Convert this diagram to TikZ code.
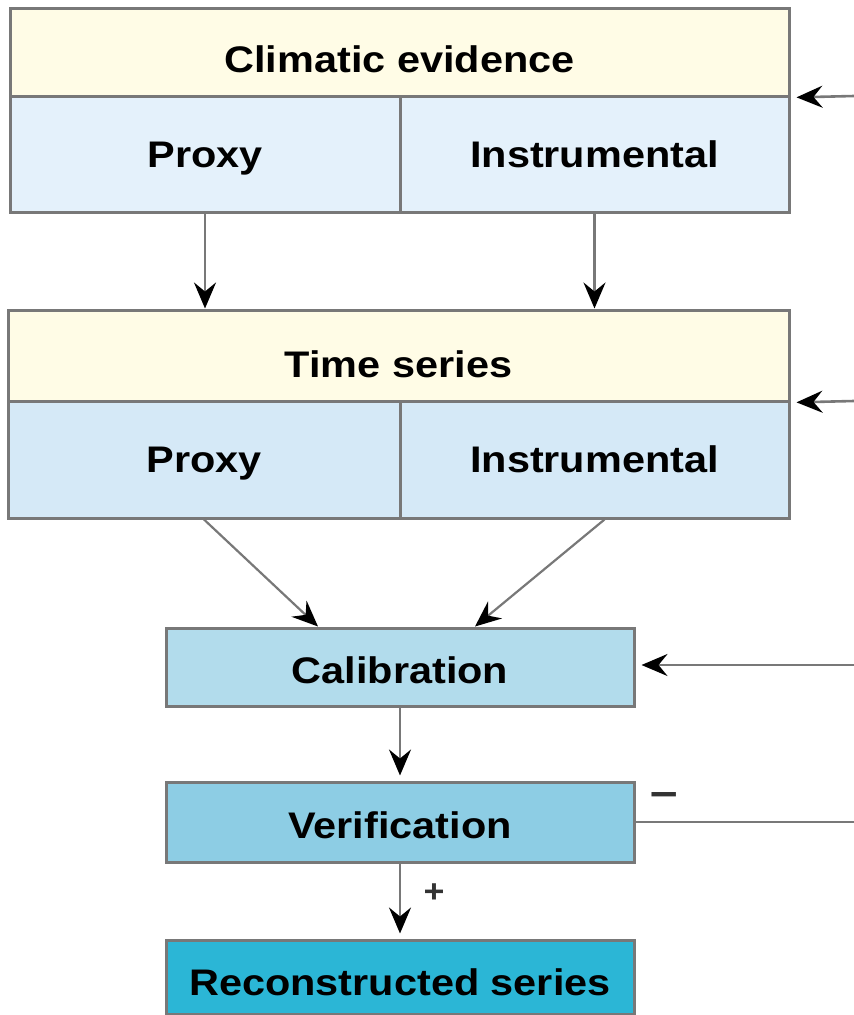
\documentclass[tikz,border=0pt]{standalone}
\usepackage{fontspec}
\setmainfont[FakeStretch=1.12]{Liberation Sans}
\usetikzlibrary{arrows.meta,calc}
\definecolor{linegray}{HTML}{787878}
\definecolor{hdryellow}{HTML}{FFFCE6}
\definecolor{cellblueA}{HTML}{E4F1FB}
\definecolor{cellblueB}{HTML}{D5E9F7}
\definecolor{calblue}{HTML}{B2DCEC}
\definecolor{verblue}{HTML}{8DCDE4}
\definecolor{recblue}{HTML}{2BB6D6}
\begin{document}
\begin{tikzpicture}[x=1pt,y=-1pt,
  cell/.style={draw=linegray, line width=3pt, inner sep=0pt,
    font=\fontsize{37}{40}\selectfont\bfseries, text height=26pt, text depth=0pt},
  arr/.style={draw=linegray, line width=2.6pt,
    -{Stealth[length=26pt,width=22pt,inset=9pt,color=black]}},
  thinarr/.style={arr, line width=2.2pt},
  sign/.style={inner sep=0pt, font=\fontsize{28}{30}\selectfont\bfseries, text=black!80}
]
\useasboundingbox (0,0) rectangle (854,1015);

% Climatic evidence box
\node[cell, fill=hdryellow, minimum width=779pt, minimum height=88pt, text height=40pt] (ce) at (399.5,52) {Climatic evidence};
\node[cell, fill=cellblueA, minimum width=390pt, minimum height=116pt] (cep) at (205,154) {Proxy};
\node[cell, fill=cellblueA, minimum width=389pt, minimum height=116pt] (cei) at (594.5,154) {Instrumental};

% Time series box
\node[cell, fill=hdryellow, minimum width=781pt, minimum height=91pt, text height=44pt] (ts) at (398.5,355.5) {Time series};
\node[cell, fill=cellblueB, minimum width=392pt, minimum height=117pt] (tsp) at (204,459.5) {Proxy};
\node[cell, fill=cellblueB, minimum width=389pt, minimum height=117pt] (tsi) at (594.5,459.5) {Instrumental};

% Process boxes
\node[cell, fill=calblue, minimum width=468pt, minimum height=78pt, text height=32pt] (cal) at (400,667) {Calibration};
\node[cell, fill=verblue, minimum width=468pt, minimum height=80pt, text height=32pt] (ver) at (400,822) {Verification};
\node[cell, fill=recblue, minimum width=468pt, minimum height=74pt, text height=36pt] (rec) at (400,977) {Reconstructed series};

% Feedback inputs from the right
\coordinate (in1) at (854,96);
\coordinate (in2) at (854,401);
\coordinate (in3) at (854,665);
\coordinate (out) at (854,822);
\draw[arr, shorten >=6pt] (in1) -- (ce.south east);
\draw[arr, shorten >=6pt] (in2) -- (ts.south east);
\draw[arr, shorten >=6pt] (in3) -- (cal.east |- in3);
\draw[draw=linegray, line width=2.6pt] (ver.east) -- (out);
\node[sign, font=\fontsize{44}{44}\selectfont\bfseries] (minus) at (664,799) {–};

% Vertical arrows
\draw[arr] (cep.south) -- (cep.south |- ts.north);
\draw[arr] (cei.south) -- (cei.south |- ts.north);

% Diagonal arrows to calibration
\coordinate (c1) at ($(cal.north)+(-82,0)$);
\coordinate (c2) at ($(cal.north)+(75,0)$);
\draw[thinarr] (tsp.south) -- (c1);
\draw[thinarr] ($(tsi.south)+(10,0)$) -- (c2);

% Calibration -> Verification -> Reconstructed
\draw[arr, shorten >=5pt] (cal.south) -- (ver.north);
\draw[arr, shorten >=5pt] (ver.south) -- (rec.north);
\node[sign, font=\fontsize{32}{32}\selectfont\bfseries] (plus) at (434,893) {+};
\end{tikzpicture}
\end{document}
